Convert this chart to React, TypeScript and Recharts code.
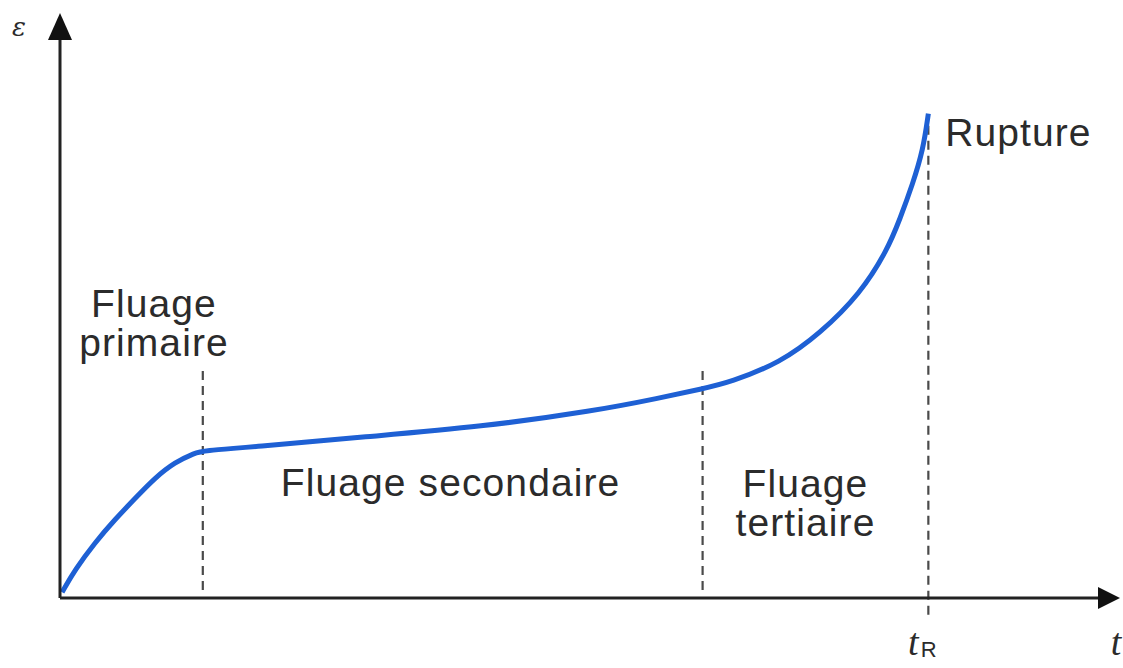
import { LineChart, Line, XAxis, YAxis, ReferenceLine, ReferenceDot } from "recharts";

// creep curve (t and strain in arbitrary units 0..100)
const time = [0.2, 1.43, 3.33, 5.24, 7.14, 9.05, 10.95, 12.86, 13.62, 18.2, 29.1, 40.1, 51.0, 57.1, 61.2, 63.8, 68.6, 72.4, 76.2, 78.8, 80.0, 81.2, 82.2, 82.7];
const strain = [1.0, 4.9, 9.6, 13.6, 17.2, 20.8, 23.5, 25.1, 25.5, 26.1, 27.9, 29.6, 32.4, 34.6, 36.2, 37.3, 40.7, 45.8, 52.6, 60.2, 65.6, 71.6, 77.5, 83.8];

// phase boundaries: end of primary, end of secondary, rupture time t_R
const boundaries = [13.6, 61.2, 82.7];
const boundaryTop = [39.4, 39.4, 83.0];
const boundaryBottom = [1.4, 1.4, -2.9];

const phaseLabels = [
  { t: 8.95, eps: 47.7, lines: ["Fluage", "primaire"], anchor: "middle" },
  { t: 37.2, eps: 20.1, lines: ["Fluage secondaire"], anchor: "middle" },
  { t: 71.0, eps: 16.5, lines: ["Fluage", "tertiaire"], anchor: "middle" },
  { t: 84.3, eps: 80.6, lines: ["Rupture"], anchor: "start" },
];

const data = time.map((t, i) => ({ t, eps: strain[i] }));

const ink = "#2b2b2b";

export default function App() {
  return (
    <div style={{ position: "absolute", left: 0, top: 0, background: "#fff" }}>
      <LineChart width={1123} height={668} data={data} margin={{ top: 20, right: 13, bottom: 40, left: 0 }}>
        <XAxis
          dataKey="t"
          type="number"
          domain={[0, 100]}
          tick={false}
          tickLine={false}
          height={30}
          axisLine={{ stroke: "#222", strokeWidth: 3 }}
        />
        <YAxis
          type="number"
          domain={[0, 100]}
          tick={false}
          tickLine={false}
          width={60}
          axisLine={{ stroke: "#222", strokeWidth: 3 }}
        />
        {boundaries.map((b, i) => (
          <ReferenceLine
            key={i}
            segment={[
              { x: b, y: boundaryBottom[i] },
              { x: b, y: boundaryTop[i] },
            ]}
            stroke="#4a4a4a"
            strokeWidth={2.2}
            strokeDasharray="9 6"
            ifOverflow="visible"
          />
        ))}
        <Line
          type="basis"
          dataKey="eps"
          stroke="#1e60d4"
          strokeWidth={5}
          dot={false}
          isAnimationActive={false}
        />
        {/* arrow heads */}
        <ReferenceDot
          x={0}
          y={100}
          ifOverflow="visible"
          shape={(p: any) => (
            <polygon points={`${p.cx - 12},${p.cy + 20} ${p.cx + 12},${p.cy + 20} ${p.cx},${p.cy - 7}`} fill="#111" />
          )}
        />
        <ReferenceDot
          x={100}
          y={0}
          ifOverflow="visible"
          shape={(p: any) => (
            <polygon points={`${p.cx - 12},${p.cy - 11} ${p.cx - 12},${p.cy + 11} ${p.cx + 10},${p.cy}`} fill="#111" />
          )}
        />
        {phaseLabels.map((l, i) => (
          <ReferenceDot
            key={"l" + i}
            x={l.t}
            y={l.eps}
            ifOverflow="visible"
            shape={(p: any) => (
              <text
                x={p.cx}
                y={p.cy - ((l.lines.length - 1) * 39) / 2}
                textAnchor={l.anchor as any}
                fontFamily="'Liberation Sans', Arial, sans-serif"
                fontSize={39}
                letterSpacing={1.1}
                fill={ink}
                dominantBaseline="central"
              >
                {l.lines.map((s, j) => (
                  <tspan key={j} x={p.cx} dy={j === 0 ? 0 : 39}>
                    {s}
                  </tspan>
                ))}
              </text>
            )}
          />
        ))}
        {/* axis names */}
        <ReferenceDot
          x={0}
          y={100}
          ifOverflow="visible"
          shape={(p: any) => (
            <text x={p.cx - 41} y={p.cy + 7} textAnchor="middle" dominantBaseline="central" fontFamily="'DejaVu Serif', serif" fontStyle="italic" fontSize={26} fill={ink}>
              ε
            </text>
          )}
        />
        <ReferenceDot
          x={100}
          y={0}
          ifOverflow="visible"
          shape={(p: any) => (
            <text x={p.cx + 6} y={p.cy + 44} textAnchor="middle" dominantBaseline="central" fontFamily="'Liberation Serif', serif" fontStyle="italic" fontSize={38} fill={ink}>
              t
            </text>
          )}
        />
        <ReferenceDot
          x={boundaries[2]}
          y={0}
          ifOverflow="visible"
          shape={(p: any) => (
            <text x={p.cx - 6} y={p.cy + 44} textAnchor="middle" dominantBaseline="central" fontFamily="'Liberation Serif', serif" fontStyle="italic" fontSize={38} fill={ink}>
              t
              <tspan fontFamily="'Liberation Sans', sans-serif" fontStyle="normal" fontSize={22} dx={2} dy={7}>
                R
              </tspan>
            </text>
          )}
        />
      </LineChart>
    </div>
  );
}
